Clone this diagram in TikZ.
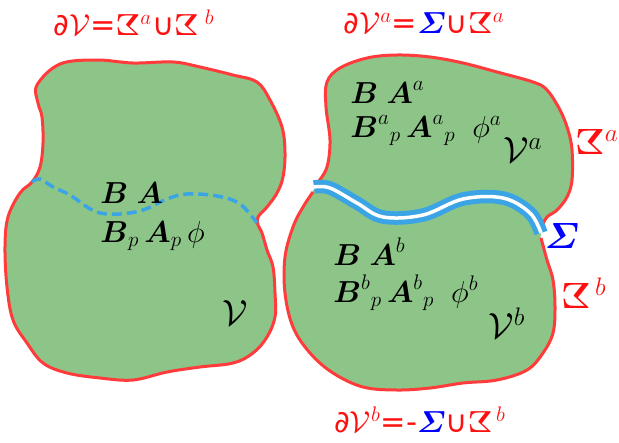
\documentclass[tikz,border=0pt]{standalone}
\usepackage{amsmath,amssymb}
\usepackage{fontspec}
\usepackage{tikz}
\usetikzlibrary{calc}
\newfontfamily\dejavu{DejaVu Sans}
\definecolor{blobgreen}{HTML}{8DC588}
\definecolor{rimred}{HTML}{FF3B3B}
\definecolor{textred}{HTML}{FF1010}
\definecolor{cutblue}{HTML}{3BA4E4}
\definecolor{sigblue}{HTML}{0000FF}
\newcommand{\rimZ}{\reflectbox{$\boldsymbol{\Sigma}$}}

\begin{document}
\begin{tikzpicture}[x=0.02cm, y=-0.02cm,
    rim/.style={draw=rimred, line width=0.06cm},
    blob/.style={fill=blobgreen},
    cutdash/.style={draw=cutblue, line width=0.07cm, dash pattern=on 0.2cm off 0.1cm},
    cutband/.style={draw=cutblue, line width=0.1cm, double=white, double distance=0.07cm},
    field/.style={anchor=base west, inner sep=0pt, font=\LARGE},
    bound/.style={inner sep=0pt, font=\huge, text=textred},
    boundeq/.style={bound, font=\LARGE}
]
\useasboundingbox (0,0) rectangle (619,443);

% whole volume
\draw[rim, blob] plot[smooth cycle, tension=0.6] coordinates {
    (37,85) (60,64) (97,60) (133,63) (173,62) (200,67) (233,75) (257,82)
    (270,100) (282,127) (285,153) (283,177) (277,193) (267,207) (258,217)
    (258,225) (262,233) (267,250) (273,267) (275,293) (275,317) (267,337)
    (253,353) (233,363) (200,367) (167,372) (133,380) (100,378) (67,373)
    (43,363) (27,343) (13,320) (7,287) (5,247) (8,217) (20,193) (32,182)
    (40,167) (43,143) (42,117) (38,103)};
\draw[cutdash] plot[smooth, tension=0.6] coordinates {
    (32,182) (40,179) (53,187) (70,195) (87,207) (100,213) (120,214)
    (143,210) (167,199) (187,194) (217,196) (240,204) (257,223)};

% split volume
\fill[blob] plot[smooth cycle, tension=0.6] coordinates {
    (542,228) (547,217) (557,210) (567,197) (572,180) (572,150) (568,130)
    (560,110) (547,90) (533,82) (497,72) (463,63) (430,57) (397,55)
    (367,58) (340,68) (327,82) (326,107) (330,140) (327,167) (316,186)
    (303,207) (293,227) (285,257) (285,293) (293,327) (310,353) (333,373)
    (363,387) (397,390) (430,388) (463,383) (497,380) (527,370) (543,353)
    (553,333) (555,307) (553,280) (547,260) (541,240)};
\draw[rim] plot[smooth, tension=0.6] coordinates {
    (542,226) (547,217) (557,210) (567,197) (572,180) (572,150) (568,130)
    (560,110) (547,90) (533,82) (497,72) (463,63) (430,57) (397,55)
    (367,58) (340,68) (327,82) (326,107) (330,140) (327,167) (318,182)};
\draw[rim] plot[smooth, tension=0.6] coordinates {
    (313,192) (303,207) (293,227) (285,257) (285,293) (293,327) (310,353)
    (333,373) (363,387) (397,390) (430,388) (463,383) (497,380) (527,370)
    (543,353) (553,333) (555,307) (553,280) (547,260) (541,238)};
\draw[cutband] plot[smooth, tension=0.6] coordinates {
    (314,187) (330,188) (357,203) (383,217) (423,215) (463,199) (503,198)
    (530,213) (541,233)};

% fields
\node[field] (wBA) at (100,203) {$\boldsymbol{B}\;\boldsymbol{A}$};
\node[field] (wBp) at (100,242) {$\boldsymbol{B}_{p}\,\boldsymbol{A}_{p}\,\phi$};
\node[font=\huge] (wV) at (235,313) {$\mathcal{V}$};
\node[field] (aBA) at (350,103) {$\boldsymbol{B}\;\boldsymbol{A}^{a}$};
\node[field] (aBp) at (350,137) {$\boldsymbol{B}^{a}{}_{p}\,\boldsymbol{A}^{a}{}_{p}\;\;\phi^{a}$};
\node[font=\huge] (aV) at (523,150) {$\mathcal{V}^{a}$};
\node[field] (bBA) at (333,265) {$\boldsymbol{B}\;\boldsymbol{A}^{b}$};
\node[field] (bBp) at (333,302) {$\boldsymbol{B}^{b}{}_{p}\,\boldsymbol{A}^{b}{}_{p}\;\;\phi^{b}$};
\node[font=\huge] (bV) at (507,323) {$\mathcal{V}^{b}$};

% boundaries
\node[bound] (Za) at (597,142) {\rimZ$^{a}$};
\node[bound] (Zb) at (584,293) {\rimZ$^{\,b}$};
\node[inner sep=0pt, font=\huge, text=sigblue] (Sig) at (562,236) {$\boldsymbol{\varSigma}$};
\node[boundeq] (eqall) at (134,23) {\dejavu ∂$\mathcal{V}$=\rimZ$^{a}$∪\rimZ$^{\;b}$};
\node[boundeq] (eqa) at (424,23) {\dejavu ∂$\mathcal{V}^{a}$=\textcolor{sigblue}{$\boldsymbol{\varSigma}$}∪\rimZ$^{a}$};
\node[boundeq] (eqb) at (420,420) {\dejavu ∂$\mathcal{V}^{b}$=-\textcolor{sigblue}{$\boldsymbol{\varSigma}$}∪\rimZ$^{\,b}$};
\end{tikzpicture}
\end{document}
